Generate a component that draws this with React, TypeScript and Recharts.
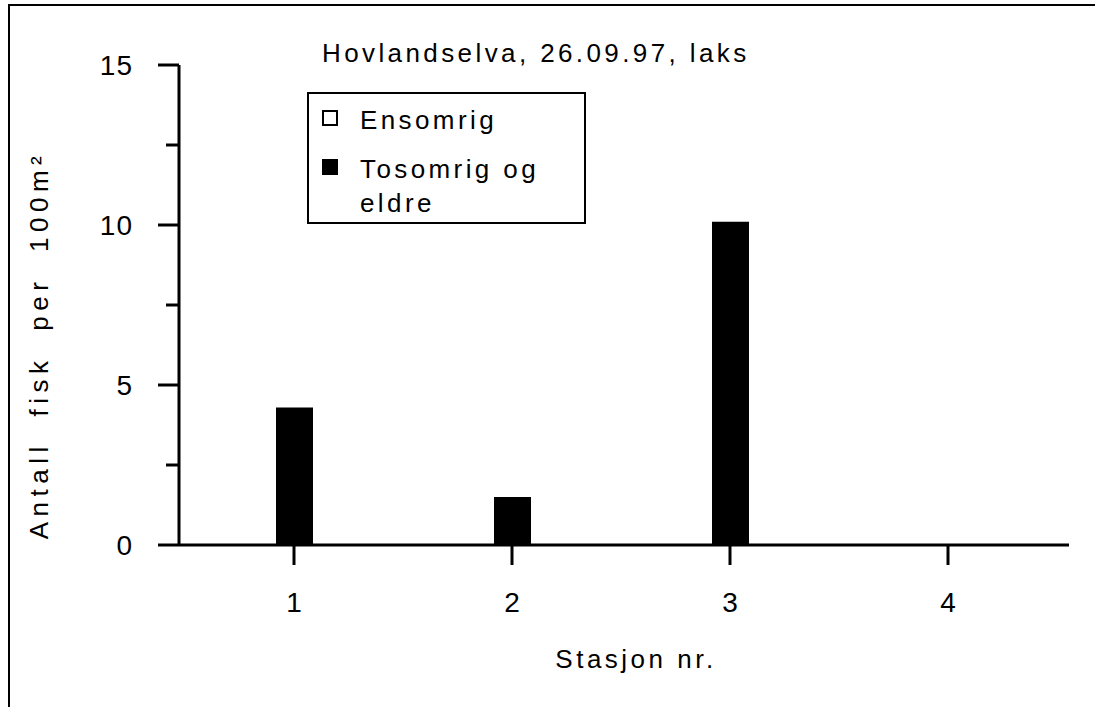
import React from 'react';
import { BarChart, Bar, XAxis, YAxis, Legend } from 'recharts';

const stations = ['1', '2', '3', '4'];
const ensomrig = [0, 0, 0, 0];
const tosomrigOgEldre = [4.3, 1.5, 10.1, 0];
const yTicks = [0, 2.5, 5, 7.5, 10, 12.5, 15];
const yLabelTicks = [0, 5, 10, 15];

const data = stations.map((s, i) => ({
  station: s,
  ensomrig: ensomrig[i],
  tosomrig: tosomrigOgEldre[i],
}));

const FONT = '"Liberation Sans", Arial, Helvetica, sans-serif';

const YTick = (props: any) => {
  const { x, y, payload } = props;
  const major = yLabelTicks.includes(payload.value);
  return (
    <g>
      <line x1={x - (major ? 21 : 13)} x2={x} y1={y} y2={y} stroke="#000" strokeWidth={3} />
      {major && (
        <text
          x={x - 46}
          y={y}
          dy="0.36em"
          textAnchor="end"
          fontSize={28}
          fontFamily={FONT}
          letterSpacing={1}
          fill="#000"
        >
          {payload.value}
        </text>
      )}
    </g>
  );
};

const renderLegend = (props: any) => {
  const items = props.payload || [];
  return (
    <div
      style={{
        width: 279,
        height: 132,
        border: '2px solid #000',
        boxSizing: 'border-box',
        position: 'relative',
        background: '#fff',
        fontFamily: FONT,
        fontSize: 26,
        letterSpacing: 3.4,
        color: '#000',
      }}
    >
      {items.map((entry: any, i: number) => (
        <div key={entry.value} style={{ position: 'absolute', left: 0, top: 9 + i * 49, width: 275 }}>
          <div
            style={{
              position: 'absolute',
              left: 13,
              top: 7,
              width: 16,
              height: 16,
              boxSizing: 'border-box',
              border: '2px solid #000',
              background: entry.color,
            }}
          />
          <div style={{ position: 'absolute', left: 51, top: 0, width: 215, lineHeight: '34px', textAlign: 'left' }}>
            {entry.value}
          </div>
        </div>
      ))}
    </div>
  );
};

export default function App() {
  return (
    <div
      style={{
        position: 'absolute',
        left: 0,
        top: 0,
        width: 1095,
        height: 707,
        overflow: 'hidden',
        background: '#fff',
      }}
    >
      <div
        style={{
          position: 'absolute',
          left: 8,
          top: 4,
          width: 1087,
          height: 703,
          borderLeft: '2px solid #000',
          borderTop: '2px solid #000',
          boxSizing: 'border-box',
        }}
      />
      <BarChart
        width={1095}
        height={707}
        data={data}
        margin={{ top: 65, right: 26, bottom: 82, left: 0 }}
        barSize={37}
        barGap={-37}
        style={{ position: 'absolute', left: 0, top: 0 }}
      >
        <XAxis
          dataKey="station"
          height={80}
          padding={{ left: 6, right: 12 }}
          tickSize={20}
          tickMargin={27}
          axisLine={{ stroke: '#000', strokeWidth: 3 }}
          tickLine={{ stroke: '#000', strokeWidth: 3 }}
          tick={{ fill: '#000', fontSize: 28, fontFamily: FONT }}
        />
        <YAxis
          width={179}
          domain={[0, 15]}
          ticks={yTicks}
          interval={0}
          tickSize={0}
          tickMargin={0}
          axisLine={{ stroke: '#000', strokeWidth: 3 }}
          tickLine={false}
          tick={<YTick />}
        />
        <Legend
          layout="horizontal"
          verticalAlign="middle"
          content={renderLegend}
          wrapperStyle={{ left: 307, top: 92, width: 279, height: 132 }}
        />
        <Bar dataKey="ensomrig" name="Ensomrig" fill="#fff" stroke="#000" isAnimationActive={false} />
        <Bar dataKey="tosomrig" name="Tosomrig og eldre" fill="#000" isAnimationActive={false} />
      </BarChart>
      <svg
        width={1095}
        height={707}
        style={{ position: 'absolute', left: 0, top: 0, pointerEvents: 'none' }}
      >
        <text x={322} y={62} fontSize={26} fontFamily={FONT} letterSpacing={3.4} fill="#000">
          Hovlandselva, 26.09.97, laks
        </text>
        <text
          x={636}
          y={668}
          textAnchor="middle"
          fontSize={26}
          fontFamily={FONT}
          letterSpacing={3.5}
          fill="#000"
        >
          Stasjon nr.
        </text>
        <text
          transform="translate(48,345) rotate(-90)"
          textAnchor="middle"
          fontSize={26}
          fontFamily={FONT}
          letterSpacing={5.5}
          wordSpacing={12}
          fill="#000"
        >
          Antall fisk per 100m²
        </text>
      </svg>
    </div>
  );
}
